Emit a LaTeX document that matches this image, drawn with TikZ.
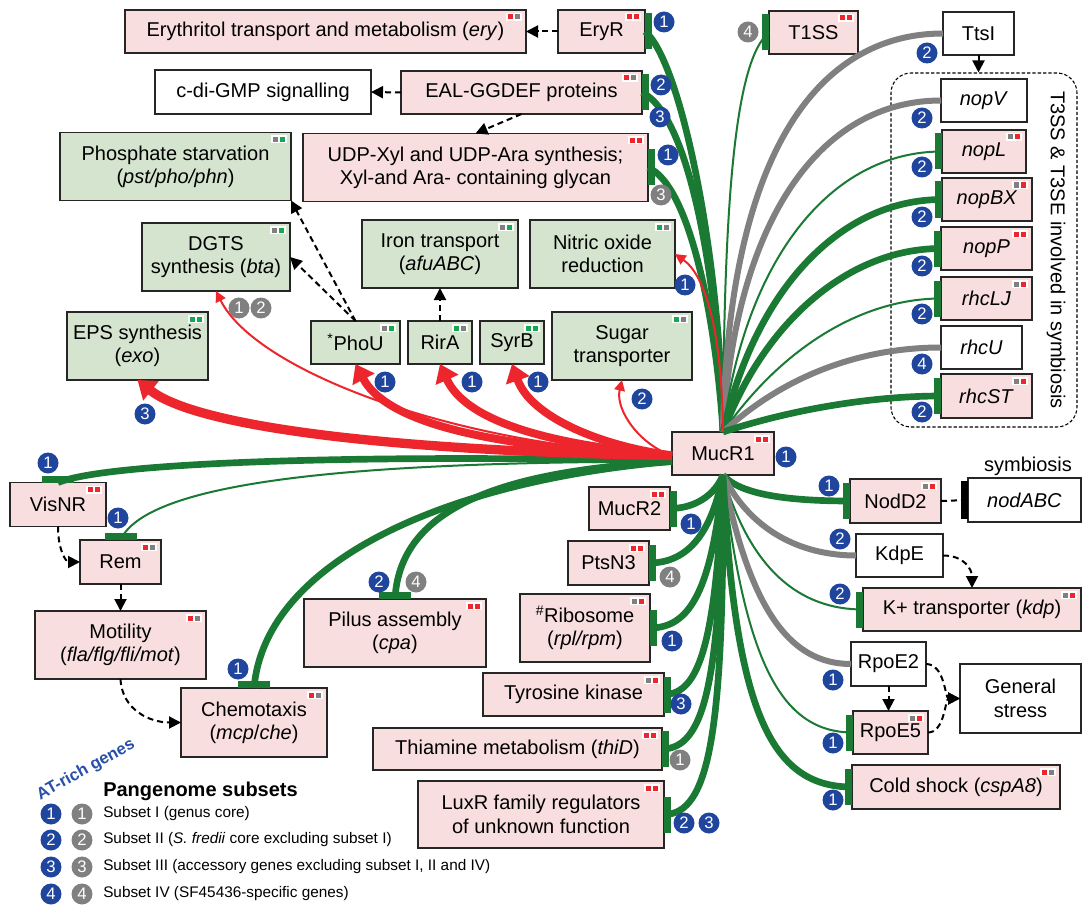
\documentclass[tikz,border=0pt]{standalone}
\usepackage{fontspec}
\setmainfont{Liberation Sans}
\usetikzlibrary{arrows.meta,positioning,calc}
\definecolor{pinkfill}{RGB}{248,222,222}
\definecolor{greenfill}{RGB}{212,228,206}
\definecolor{repgreen}{RGB}{26,121,51}
\definecolor{actred}{RGB}{236,38,44}
\definecolor{linegray}{RGB}{128,128,128}
\definecolor{badgeblue}{RGB}{31,69,157}
\definecolor{badgegray}{RGB}{128,128,128}
\definecolor{sqred}{RGB}{236,38,44}
\definecolor{sqgray}{RGB}{128,128,128}
\definecolor{sqgreen}{RGB}{20,168,80}
\definecolor{atblue}{RGB}{40,80,170}
\tikzset{
  nbox/.style={draw=black!85,line width=1.3pt,inner sep=2pt,outer sep=0pt,align=center,font=\fontsize{15}{17.5}\selectfont},
  pbox/.style={nbox,fill=pinkfill},
  gbox/.style={nbox,fill=greenfill},
  wbox/.style={nbox,fill=white},
  sz/.style 2 args={minimum width=#1*0.75pt,minimum height=#2*0.75pt},
  grp/.style={draw,line width=0.8pt,dash pattern=on 2.5pt off 1.5pt,rounded corners=15pt},
  rep/.style={draw=repgreen,line width=5pt},
  repthin/.style={draw=repgreen,line width=1.5pt},
  gry/.style={draw=linegray,line width=4.5pt},
  act/.style={draw=actred,line width=6pt,-{Triangle[width=18pt,length=13pt]}},
  actthin/.style={draw=actred,line width=1.5pt,-{Triangle[width=8pt,length=8pt]}},
  dep/.style={draw=black,line width=1.5pt,dash pattern=on 4.5pt off 3pt,-{Triangle[width=9pt,length=9pt]}},
  bb/.style={circle,fill=badgeblue,text=white,inner sep=0pt,minimum size=15.75pt,font=\fontsize{12.5}{12.5}\selectfont},
  gb/.style={bb,fill=badgegray},
  legtxt/.style={anchor=west,inner sep=0pt,font=\fontsize{11.5}{13}\selectfont}
}
\newcommand{\tagsq}[3]{%
  \fill[white] ($(#1.north east)+(-20,3)$) rectangle ($(#1.north east)+(-4,11)$);
  \fill[#2] ($(#1.north east)+(-18,4.5)$) rectangle ($(#1.north east)+(-13,9.5)$);
  \fill[#3] ($(#1.north east)+(-11,4.5)$) rectangle ($(#1.north east)+(-6,9.5)$);}
\newcommand{\barE}[1]{\fill[repgreen] ($(#1.east)+(0,-18)$) rectangle ($(#1.east)+(7,18)$);}
\newcommand{\barW}[1]{\fill[repgreen] ($(#1.west)+(-7,-18)$) rectangle ($(#1.west)+(0,18)$);}
\newcommand{\barN}[1]{\fill[repgreen] ($(#1.north)+(-16,-7)$) rectangle ($(#1.north)+(16,0)$);}

\begin{document}
\begin{tikzpicture}[x=0.75pt,y=-0.75pt]
\path[use as bounding box,fill=white] (0,0) rectangle (1083,906);

\node[pbox,sz={401}{43}] (ery) at (325.5,31.5) {Erythritol transport and metabolism (\textit{ery})};
\node[pbox,sz={87}{43}] (EryR) at (601.5,31.5) {EryR};
\node[wbox,sz={216}{44}] (cdi) at (263,92) {c-di-GMP signalling};
\node[pbox,sz={241}{43}] (EAL) at (521.5,92.5) {EAL-GGDEF proteins};
\node[pbox,sz={345}{68}] (UDP) at (475.5,167.5) {UDP-Xyl and UDP-Ara synthesis;\\Xyl-and Ara- containing glycan};
\node[gbox,sz={231}{68}] (Phos) at (175.5,166.5) {Phosphate starvation\\(\textit{pst/pho/phn})};
\node[gbox,sz={148}{68}] (DGTS) at (216,257) {DGTS\\synthesis (\textit{bta})};
\node[gbox,sz={156}{68}] (Iron) at (440,254) {Iron transport\\(\textit{afuABC})};
\node[gbox,sz={145}{68}] (NO) at (602.5,254) {Nitric oxide\\reduction};
\node[gbox,sz={141}{68}] (EPS) at (137.5,346) {EPS synthesis\\(\textit{exo})};
\node[gbox,sz={89}{43}] (PhoU) at (355.5,342.5) {\textsuperscript{*}PhoU};
\node[gbox,sz={64}{43}] (RirA) at (440,342.5) {RirA};
\node[gbox,sz={64}{43}] (SyrB) at (512,342.5) {SyrB};
\node[gbox,sz={140}{68}] (Sugar) at (622,346) {Sugar\\transporter};
\node[pbox,sz={102}{43}] (MucR1) at (723,453.5) {MucR1};

\node[pbox,sz={89}{43}] (T1SS) at (813.5,32.5) {T1SS};
\node[wbox,sz={71}{43}] (TtsI) at (978.5,33.5) {TtsI};
\node[grp,sz={186}{354}] (T3) at (984,250) {};
\node[wbox,sz={86}{43}] (nopV) at (984,100.5) {\textit{nopV}};
\node[pbox,sz={84}{43}] (nopL) at (984,151.5) {\textit{nopL}};
\node[pbox,sz={90}{43}] (nopBX) at (987,199.5) {\textit{nopBX}};
\node[pbox,sz={91}{43}] (nopP) at (986.5,248.5) {\textit{nopP}};
\node[pbox,sz={91}{43}] (rhcLJ) at (986.5,298.5) {\textit{rhcLJ}};
\node[wbox,sz={81}{43}] (rhcU) at (981.5,347.5) {\textit{rhcU}};
\node[pbox,sz={91}{44}] (rhcST) at (986.5,396) {\textit{rhcST}};
\node[rotate=-90,font=\fontsize{15}{17.5}\selectfont] (T3lab) at (1056,250) {T3SS \& T3SE involved in symbiosis};

\node[pbox,sz={91}{44}] (NodD2) at (895.5,501) {NodD2};
\node[wbox,sz={113}{44}] (nodABC) at (1024.5,500) {\textit{nodABC}};
\node[font=\fontsize{15}{17.5}\selectfont] (symlab) at (1028,466) {symbiosis};
\node[wbox,sz={87}{43}] (KdpE) at (899.5,555.5) {KdpE};
\node[pbox,sz={218}{43}] (Kplus) at (972,609.5) {K+ transporter (\textit{kdp})};
\node[wbox,sz={75}{44}] (RpoE2) at (888.5,664) {RpoE2};
\node[pbox,sz={75}{43}] (RpoE5) at (890.5,732.5) {RpoE5};
\node[wbox,sz={121}{69}] (Gen) at (1020.5,698.5) {General\\stress};
\node[pbox,sz={208}{44}] (Cold) at (956,787) {Cold shock (\textit{cspA8})};

\node[pbox,sz={81}{43}] (MucR2) at (629.5,508.5) {MucR2};
\node[pbox,sz={81}{44}] (PtsN3) at (608.5,563) {PtsN3};
\node[pbox,sz={130}{68}] (Ribo) at (585,628) {\textsuperscript{\#}Ribosome\\(\textit{rpl/rpm})};
\node[pbox,sz={181}{43}] (Tyro) at (573.5,694.5) {Tyrosine kinase};
\node[pbox,sz={289}{42}] (Thia) at (517.5,749) {Thiamine metabolism (\textit{thiD})};
\node[pbox,sz={246}{67}] (LuxR) at (541,814.5) {LuxR family regulators\\of unknown function};
\node[pbox,sz={182}{68}] (Pilus) at (395,633) {Pilus assembly\\(\textit{cpa})};

\node[pbox,sz={96}{44}] (VisNR) at (58,504.5) {VisNR};
\node[pbox,sz={81}{44}] (Rem) at (120.5,562) {Rem};
\node[pbox,sz={171}{68}] (Moti) at (120.5,645) {Motility\\(\textit{fla/flg/fli/mot})};
\node[pbox,sz={146}{69}] (Chemo) at (254,722.5) {Chemotaxis\\(\textit{mcp}/\textit{che})};

\coordinate (hubR) at ($(MucR1.west)+(0,2)$);
\coordinate (hubG) at ($(MucR1.west)+(0,8)$);

\draw[rep] (MucR1.north) .. controls (720,250) and (680,60) .. (EryR.east);
\draw[rep] (MucR1.north) .. controls (718,280) and (690,115) .. (EAL.east);
\draw[rep] (MucR1.north) .. controls (716,320) and (690,185) .. (UDP.east);
\draw[repthin] (MucR1.north) .. controls (724,200) and (735,60) .. (T1SS.west);
\draw[gry] (MucR1.north) .. controls (728,150) and (820,33.5) .. (TtsI.west);
\draw[gry] (MucR1.north) .. controls (735,220) and (820,100.5) .. (nopV.west);
\draw[repthin] (MucR1.north) .. controls (745,260) and (830,151.5) .. (nopL.west);
\draw[rep] (MucR1.north) .. controls (755,290) and (840,199.5) .. (nopBX.west);
\draw[rep] (MucR1.north) .. controls (765,320) and (850,248.5) .. (nopP.west);
\draw[repthin] (MucR1.north) .. controls (780,350) and (860,298.5) .. (rhcLJ.west);
\draw[gry] (MucR1.north) .. controls (790,370) and (870,347.5) .. (rhcU.west);
\draw[rep] (MucR1.north) .. controls (790,410) and (870,396) .. (rhcST.west);

\draw[rep] (MucR1.south) .. controls (715,495) and (695,508.5) .. (MucR2.east);
\draw[rep] (MucR1.south) .. controls (712,530) and (690,563) .. (PtsN3.east);
\draw[rep] (MucR1.south) .. controls (712,590) and (690,628) .. (Ribo.east);
\draw[rep] (MucR1.south) .. controls (716,640) and (700,694.5) .. (Tyro.east);
\draw[rep] (MucR1.south) .. controls (720,680) and (705,749) .. (Thia.east);
\draw[rep] (MucR1.south) .. controls (724,730) and (710,814.5) .. (LuxR.east);
\draw[rep] (MucR1.south) .. controls (740,495) and (790,501) .. (NodD2.west);
\draw[gry] (MucR1.south) .. controls (750,530) and (800,555.5) .. (KdpE.west);
\draw[repthin] (MucR1.south) .. controls (750,570) and (800,609.5) .. (Kplus.west);
\draw[gry] (MucR1.south) .. controls (750,610) and (790,664) .. (RpoE2.west);
\draw[repthin] (MucR1.south) .. controls (745,660) and (780,732.5) .. (RpoE5.west);
\draw[rep] (MucR1.south) .. controls (735,710) and (770,787) .. (Cold.west);

\draw[rep] (hubG) .. controls (450,455) and (120,458) .. (VisNR.north);
\draw[repthin] (hubG) .. controls (400,462) and (150,475) .. (Rem.north);
\draw[rep] (hubG) .. controls (450,480) and (265,560) .. (Chemo.north);
\draw[rep] (hubG) .. controls (520,470) and (400,500) .. (Pilus.north);

\draw[act,line width=7pt] (hubR) .. controls (420,452) and (200,430) .. (EPS.south);
\draw[act] (hubR) .. controls (480,448) and (385,420) .. (PhoU.south);
\draw[act] (hubR) .. controls (545,445) and (465,420) .. (RirA.south);
\draw[act] (hubR) .. controls (595,445) and (530,415) .. (SyrB.south);
\draw[actthin] (hubR) .. controls (450,445) and (255,370) .. (DGTS.south);
\draw[actthin] (hubR) .. controls (640,445) and (615,410) .. (Sugar.south);
\draw[actthin] (MucR1.north) .. controls (722,330) and (705,275) .. (NO.east);

\draw[dep] (EryR.west) -- (ery.east);
\draw[dep] (EAL.west) -- (cdi.east);
\draw[dep] (EAL.south) -- (UDP.north);
\draw[dep] (PhoU.north) -- (Phos.south east);
\draw[dep] (PhoU.north) -- (DGTS.east);
\draw[dep] (RirA.north) -- (Iron.south);
\draw[dep] (TtsI.south) -- (TtsI.south |- T3.north);
\draw[dep] (VisNR.south) .. controls (58,550) and (66,562) .. (Rem.west);
\draw[dep] (Rem.south) -- (Moti.north);
\draw[dep] (Moti.south) .. controls (122,710) and (150,722.5) .. (Chemo.west);
\draw[dep] (KdpE.east) .. controls (965,555.5) and (972,570) .. (Kplus.north);
\draw[dep] (RpoE2.south) -- (RpoE2.south |- RpoE5.north);
\draw[dep] (RpoE2.east) .. controls (945,664) and (945,698.5) .. (Gen.west);
\draw[dep] (RpoE5.east) .. controls (945,732.5) and (945,698.5) .. (Gen.west);
\draw[dep,-] (NodD2.east) -- (nodABC.west);
\fill[black] ($(nodABC.west)+(-7,-19)$) rectangle ($(nodABC.west)+(0,19)$);

\barE{EryR} \barE{EAL} \barE{UDP} \barE{MucR2} \barE{PtsN3} \barE{Ribo} \barE{Tyro} \barE{Thia} \barE{LuxR}
\barW{T1SS} \barW{nopL} \barW{nopBX} \barW{nopP} \barW{rhcLJ} \barW{rhcST} \barW{NodD2} \barW{Kplus} \barW{RpoE5} \barW{Cold}
\barN{VisNR} \barN{Rem} \barN{Chemo} \barN{Pilus}

\tagsq{ery}{sqred}{sqgray} \tagsq{EryR}{sqred}{sqred} \tagsq{EAL}{sqred}{sqgray} \tagsq{UDP}{sqred}{sqred}
\tagsq{Phos}{sqgray}{sqgreen} \tagsq{DGTS}{sqgray}{sqgreen} \tagsq{Iron}{sqgray}{sqgreen} \tagsq{NO}{sqgreen}{sqgray}
\tagsq{EPS}{sqgreen}{sqgreen} \tagsq{PhoU}{sqgray}{sqgreen} \tagsq{RirA}{sqgreen}{sqgray} \tagsq{SyrB}{sqgreen}{sqgreen}
\tagsq{Sugar}{sqgreen}{sqgray} \tagsq{MucR1}{sqred}{sqred} \tagsq{T1SS}{sqred}{sqred}
\tagsq{nopL}{sqgray}{sqred} \tagsq{nopBX}{sqgray}{sqred} \tagsq{nopP}{sqred}{sqred} \tagsq{rhcLJ}{sqgray}{sqred} \tagsq{rhcST}{sqgray}{sqred}
\tagsq{NodD2}{sqgray}{sqred} \tagsq{Kplus}{sqgray}{sqred} \tagsq{RpoE5}{sqgray}{sqred} \tagsq{Cold}{sqred}{sqgray}
\tagsq{MucR2}{sqred}{sqred} \tagsq{PtsN3}{sqred}{sqred} \tagsq{Ribo}{sqgray}{sqred} \tagsq{Tyro}{sqgray}{sqred}
\tagsq{Thia}{sqred}{sqred} \tagsq{LuxR}{sqred}{sqred} \tagsq{Pilus}{sqred}{sqred}
\tagsq{VisNR}{sqred}{sqred} \tagsq{Rem}{sqred}{sqgray} \tagsq{Moti}{sqred}{sqgray} \tagsq{Chemo}{sqred}{sqgray}

\node[bb] (bEryR) at (664,22) {1};
\node[bb] (bEALa) at (661,85) {2};
\node[bb] (bEALb) at (660,117) {3};
\node[bb] (bUDPa) at (668,155) {1};
\node[gb] (bUDPb) at (661,195) {3};
\node[bb] (bNO) at (685,285) {1};
\node[gb] (bDGTSa) at (239,308) {1};
\node[gb] (bDGTSb) at (261,308) {2};
\node[bb] (bEPS) at (145,414) {3};
\node[bb] (bPhoU) at (385,382) {1};
\node[bb] (bRirA) at (472,382) {1};
\node[bb] (bSyrB) at (538,382) {1};
\node[bb] (bSugar) at (642,399) {2};
\node[bb] (bMucR1) at (786,457) {1};
\node[gb] (bT1SS) at (748,32) {4};
\node[bb] (bTtsI) at (927,53) {2};
\node[bb] (bnopV) at (922,118) {2};
\node[bb] (bnopL) at (922,167) {2};
\node[bb] (bnopBX) at (922,217) {2};
\node[bb] (bnopP) at (922,266) {2};
\node[bb] (brhcLJ) at (922,314) {2};
\node[bb] (brhcU) at (922,364) {4};
\node[bb] (brhcST) at (922,412) {2};
\node[bb] (bVisNR) at (48,463) {1};
\node[bb] (bRem) at (118,518) {1};
\node[bb] (bChemo) at (238,669) {1};
\node[bb] (bPilusa) at (379,582) {2};
\node[gb] (bPilusb) at (416,582) {4};
\node[bb] (bMucR2) at (691,524) {1};
\node[gb] (bPtsN3) at (670,577) {4};
\node[bb] (bRibo) at (672,641) {1};
\node[bb] (bTyro) at (681,704) {3};
\node[gb] (bThia) at (680,760) {1};
\node[bb] (bLuxRa) at (684,823) {2};
\node[bb] (bLuxRb) at (709,823) {3};
\node[bb] (bNodD2) at (829,486) {1};
\node[bb] (bKdpE) at (840,539) {2};
\node[bb] (bKplus) at (840,594) {2};
\node[bb] (bRpoE2) at (833,680) {1};
\node[bb] (bRpoE5) at (833,743) {1};
\node[bb] (bCold) at (833,800) {1};

\node[rotate=29,inner sep=0pt,text=atblue,font=\bfseries\fontsize{12.5}{13}\selectfont] (atlab) at (86,770) {AT-rich genes};
\node[anchor=west,inner sep=0pt,font=\bfseries\fontsize{15}{17}\selectfont] (legtitle) at (103,791) {Pangenome subsets};
\node[bb] (lb1) at (51,814) {1};
\node[gb] (lg1) at (82,814) {1};
\node[legtxt] (lt1) at (103,814) {Subset I (genus core)};
\node[bb] (lb2) at (51,840) {2};
\node[gb] (lg2) at (82,840) {2};
\node[legtxt] (lt2) at (103,840) {Subset II (\textit{S. fredii} core excluding subset I)};
\node[bb] (lb3) at (51,867) {3};
\node[gb] (lg3) at (82,867) {3};
\node[legtxt] (lt3) at (103,867) {Subset III (accessory genes excluding subset I, II and IV)};
\node[bb] (lb4) at (51,894) {4};
\node[gb] (lg4) at (82,894) {4};
\node[legtxt] (lt4) at (103,894) {Subset IV (SF45436-specific genes)};
\end{tikzpicture}
\end{document}
